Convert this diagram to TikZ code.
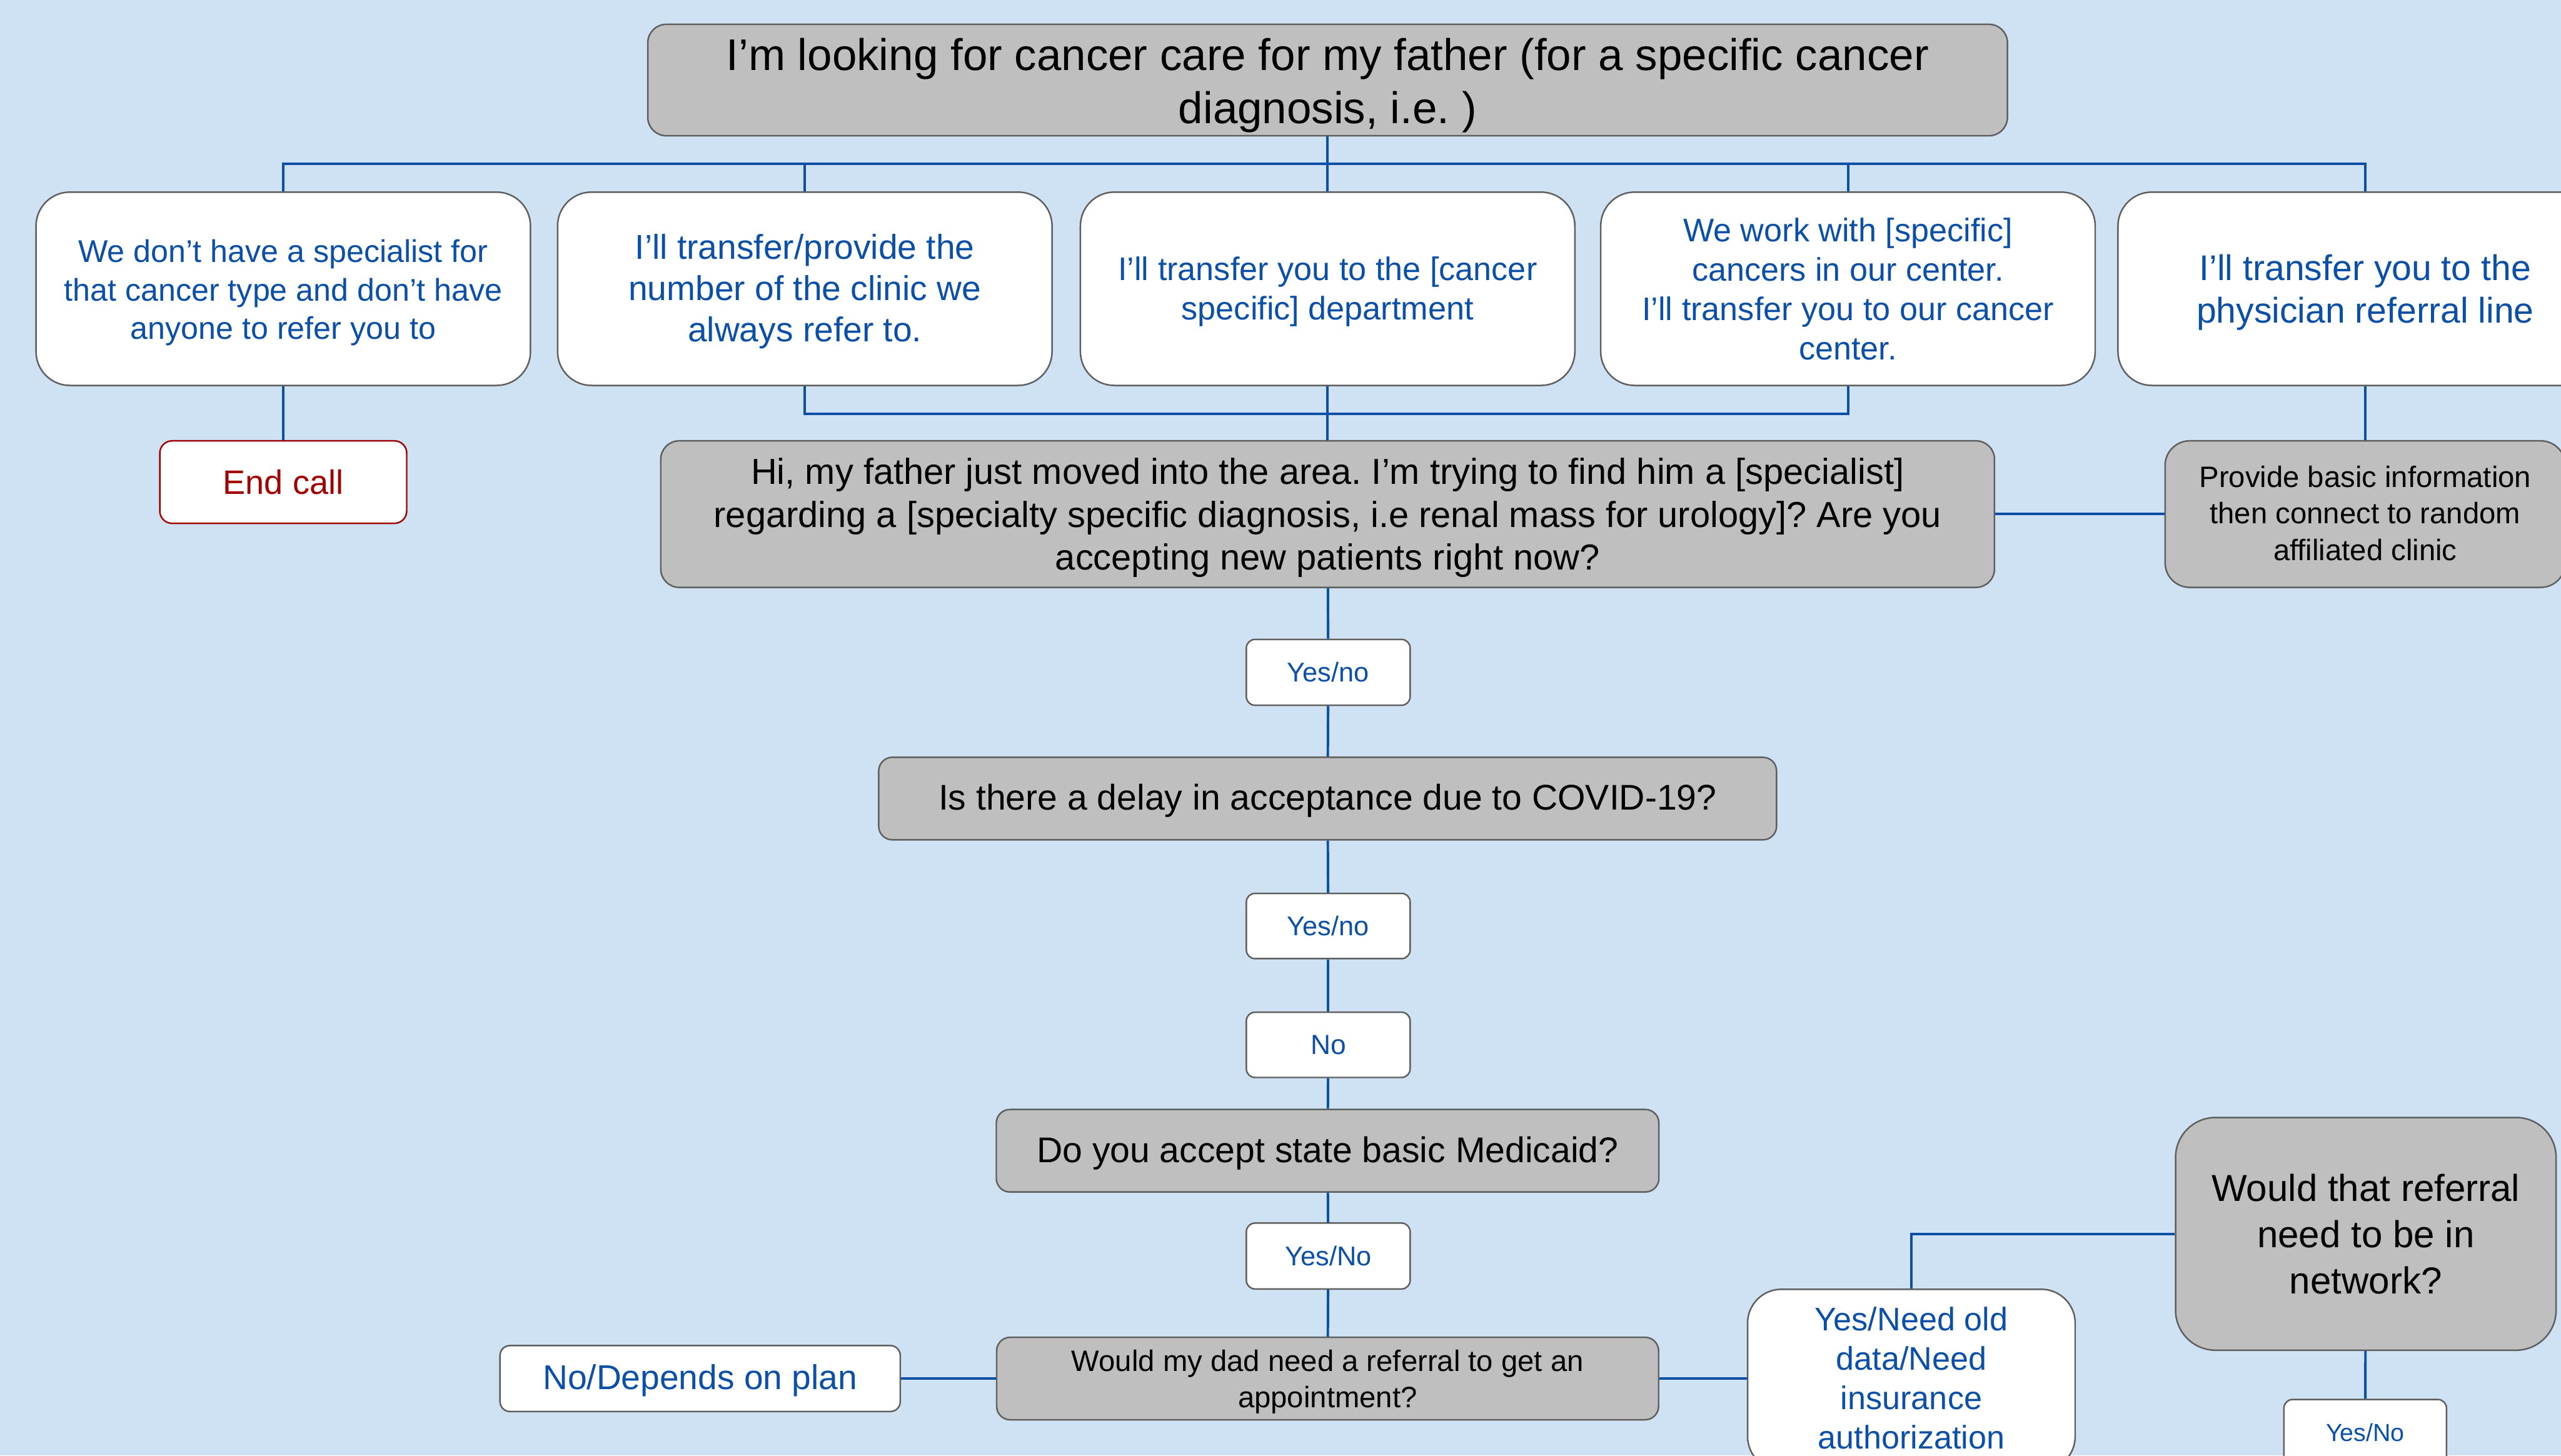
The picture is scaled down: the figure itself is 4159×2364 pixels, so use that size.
\documentclass[tikz,border=0pt]{standalone}
\usepackage{fontspec}
\setmainfont{Liberation Sans}
\frenchspacing
\definecolor{bg}{HTML}{CFE2F3}
\definecolor{grayfill}{HTML}{C0BFC0}
\definecolor{edge}{HTML}{5F5F5F}
\definecolor{ablue}{HTML}{0B4FA6}
\definecolor{ared}{HTML}{A00000}
\newcommand\myfs[2]{\fontsize{#1}{#2}\selectfont}
\newcommand\lowtext[2]{\raisebox{-#1pt}[\height][\depth]{\begin{tabular}{@{}c@{}}#2\end{tabular}}}
\begin{document}
\begin{tikzpicture}[x=1pt,y=-1pt,
  box/.style={draw=edge,line width=2.5pt,align=center,inner sep=0pt},
  graybox/.style={box,fill=grayfill,text=black},
  whitebox/.style={box,fill=white,text=ablue},
  conn/.style={draw=ablue,line width=4pt}]
\clip (0,0) rectangle (4159,2364);
\fill[bg] (0,0) rectangle (4159,2364);

% top
\node[graybox,rounded corners=30pt,minimum width=2208pt,minimum height=181pt,font=\myfs{72}{86}] (top) at (2156,130)
  {\lowtext{10}{I’m looking for cancer care for my father (for a specific cancer\\diagnosis, i.e. )}};

% row 2
\node[whitebox,rounded corners=55pt,minimum width=803pt,minimum height=314pt,font=\myfs{51}{62}] (b1) at (460,469)
  {\lowtext{7}{We don’t have a specialist for\\that cancer type and don’t have\\anyone to refer you to}};
\node[whitebox,rounded corners=55pt,minimum width=803pt,minimum height=314pt,font=\myfs{56}{67}] (b2) at (1307,469)
  {\lowtext{5}{I’ll transfer/provide the\\number of the clinic we\\always refer to.}};
\node[whitebox,rounded corners=55pt,minimum width=803pt,minimum height=314pt,font=\myfs{53}{64}] (b3) at (2156,469)
  {\lowtext{6}{I’ll transfer you to the [cancer\\specific] department}};
\node[whitebox,rounded corners=55pt,minimum width=803pt,minimum height=314pt,font=\myfs{53}{64}] (b4) at (3001,469)
  {\lowtext{7}{We work with [specific]\\cancers in our center.\\I’ll transfer you to our cancer\\center.}};
\node[whitebox,rounded corners=55pt,minimum width=803pt,minimum height=314pt,font=\myfs{58}{69}] (b5) at (3841,469)
  {\lowtext{7}{I’ll transfer you to the\\physician referral line}};

\node[box,draw=ared,fill=white,text=ared,rounded corners=20pt,minimum width=401pt,minimum height=134pt,font=\myfs{55}{64}] (endc) at (460,783)
  {End call};

\node[graybox,rounded corners=30pt,minimum width=2166pt,minimum height=238pt,font=\myfs{58.7}{70}] (hi) at (2156,835)
  {\lowtext{7}{Hi, my father just moved into the area. I’m trying to find him a [specialist]\\regarding a [specialty specific diagnosis, i.e renal mass for urology]? Are you\\accepting new patients right now?}};
\node[graybox,rounded corners=40pt,minimum width=650pt,minimum height=238pt,font=\myfs{48}{59}] (prov) at (3841,835)
  {\lowtext{4}{Provide basic information\\then connect to random\\affiliated clinic}};

\node[whitebox,rounded corners=14pt,minimum width=266pt,minimum height=107pt,font=\myfs{44}{52}] (yn1) at (2157,1092)
  {Yes/no};
\node[graybox,rounded corners=22pt,minimum width=1458pt,minimum height=134pt,font=\myfs{58}{68}] (covid) at (2156,1297)
  {\lowtext{5}{Is there a delay in acceptance due to COVID-19?}};
\node[whitebox,rounded corners=14pt,minimum width=266pt,minimum height=106pt,font=\myfs{44}{52}] (yn2) at (2157,1504)
  {Yes/no};
\node[whitebox,rounded corners=14pt,minimum width=266pt,minimum height=106pt,font=\myfs{45}{52}] (no) at (2157,1697)
  {No};
\node[graybox,rounded corners=22pt,minimum width=1076pt,minimum height=134pt,font=\myfs{58}{68}] (med) at (2156,1869)
  {\lowtext{5}{Do you accept state basic Medicaid?}};
\node[whitebox,rounded corners=14pt,minimum width=266pt,minimum height=107pt,font=\myfs{44}{52}] (yn3) at (2157,2040)
  {Yes/No};
\node[graybox,rounded corners=22pt,minimum width=1075pt,minimum height=134pt,font=\myfs{48}{58}] (ref) at (2156,2239)
  {\lowtext{6}{Would my dad need a referral to get an\\appointment?}};
\node[whitebox,rounded corners=16pt,minimum width=650pt,minimum height=107pt,font=\myfs{56}{64}] (dep) at (1137,2239)
  {\lowtext{5}{No/Depends on plan}};
\node[whitebox,rounded corners=55pt,minimum width=532pt,minimum height=294pt,font=\myfs{53}{64}] (need) at (3104,2241)
  {\lowtext{3}{Yes/Need old\\data/Need\\insurance\\authorization}};
\node[graybox,rounded corners=65pt,minimum width=618pt,minimum height=378pt,font=\myfs{61}{75}] (wtr) at (3842,2004)
  {\lowtext{7}{Would that referral\\need to be in\\network?}};
\node[whitebox,rounded corners=14pt,minimum width=264pt,minimum height=108pt,font=\myfs{40}{48}] (yn4) at (3841,2327)
  {Yes/No};

% connectors
\coordinate (bus) at (0,266);
\coordinate (jn) at (0,672);
\draw[conn] (top) -- (top |- bus);
\draw[conn] (b1.north) -- (b1.north |- bus) -- (b5.north |- bus) -- (b5.north);
\draw[conn] (b2.north) -- (b2.north |- bus);
\draw[conn] (b3.north) -- (b3.north |- bus);
\draw[conn] (b4.north) -- (b4.north |- bus);
\draw[conn] (b2.south) -- (b2.south |- jn) -- (b4.south |- jn) -- (b4.south);
\draw[conn] (b1) -- (endc);
\draw[conn] (b3) -- (hi);
\draw[conn] (b5) -- (prov);
\draw[conn] (hi) -- (prov);
\draw[conn] (hi) -- (yn1);
\draw[conn] (yn1) -- (covid);
\draw[conn] (covid) -- (yn2);
\draw[conn] (yn2) -- (no);
\draw[conn] (no) -- (med);
\draw[conn] (med) -- (yn3);
\draw[conn] (yn3) -- (ref);
\draw[conn] (ref) -- (dep);
\draw[conn] (ref.east) -- (ref.east -| need.west);
\draw[conn] (wtr.west) -| (need.north);
\draw[conn] (wtr) -- (yn4);
\end{tikzpicture}
\end{document}
